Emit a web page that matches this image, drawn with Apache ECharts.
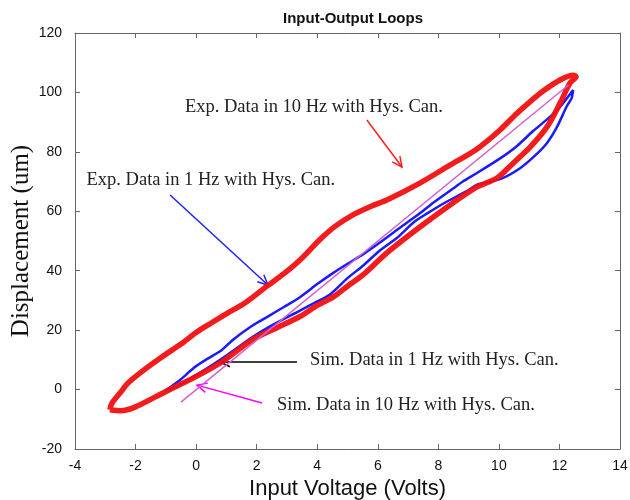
<!DOCTYPE html>
<html>
<head>
<meta charset="utf-8">
<script src="https://cdn.jsdelivr.net/npm/echarts@6/dist/echarts.min.js"></script>
<style>html,body{margin:0;padding:0;background:#fff}#c{width:630px;height:500px}</style>
</head>
<body>
<div id="c"></div>
<script>
// Axis ticks
const xTicks = [-4, -2, 0, 2, 4, 6, 8, 10, 12, 14];
const yTicks = [-20, 0, 20, 40, 60, 80, 100, 120];

// Exp. data 10 Hz (red loop): upper branch (tip -> top), lower branch (top -> tip)
const exp10Upper = [[-2.85,-6.8],[-2.78,-4.6],[-2.5,-1.0],[-2.25,2.2],[-1.7,6.8],[-1.13,11.0],[-0.5,15.3],[0.0,19.2],[0.5,22.4],[1.05,25.8],[1.61,29.1],[2.34,34.8],[2.9,39.0],[3.43,43.6],[4.09,50.5],[4.6,55.0],[5.18,58.8],[5.8,61.8],[6.3,63.8],[7.39,69.5],[8.38,75.5],[9.28,81.0],[10.0,87.0],[10.6,93.0],[11.1,97.5],[11.46,100.5],[12.02,104.2],[12.45,105.8],[12.55,105.4]];
const exp10Lower = [[12.55,105.4],[12.35,103.2],[12.02,96.4],[11.59,88.4],[11.03,81.6],[10.47,76.2],[9.94,71.2],[9.28,68.2],[8.48,62.8],[7.39,54.7],[6.3,46.0],[5.5,38.5],[5.0,34.8],[4.52,31.1],[4.0,28.3],[3.43,24.6],[2.6,20.5],[1.85,16.7],[0.85,9.3],[-0.04,4.2],[-1.03,-0.8],[-2.02,-5.9],[-2.5,-7.1],[-2.85,-6.8]];

// Exp. data 1 Hz (blue loop)
const exp1Upper = [[-1.03,-0.5],[-0.5,3.5],[-0.04,7.6],[0.4,10.5],[0.85,13.3],[1.22,16.8],[1.85,21.5],[2.34,24.4],[2.9,27.8],[3.43,31.1],[4.0,35.5],[4.52,39.2],[5.0,42.3],[5.51,45.5],[6.07,49.5],[6.63,53.7],[7.39,59.3],[7.82,62.8],[8.48,67.6],[8.81,70.0],[9.28,72.9],[10.04,77.8],[10.6,82.0],[11.13,87.0],[11.6,91.0],[12.02,95.1],[12.45,100.8]];
const exp1Lower = [[12.45,100.8],[12.4,98.0],[12.25,95.5],[11.92,88.4],[11.59,83.0],[11.2,78.8],[10.7,74.5],[10.04,70.8],[9.3,69.0],[8.94,66.8],[8.2,62.8],[7.62,59.2],[7.2,56.4],[6.63,51.0],[6.07,46.8],[5.5,41.6],[5.0,37.5],[4.42,32.0],[3.8,28.6],[3.43,26.6],[2.5,21.6],[1.85,17.6],[1.05,11.8],[0.4,7.4],[-0.04,4.6],[-0.6,1.2],[-1.03,-0.5]];

// Simulated data (magenta)
const simData = [[-0.5,-4.2],[12.3,102.5]];

// Annotations
const annText = ["Exp. Data in 10 Hz with Hys. Can.", "Exp. Data in 1 Hz with Hys. Can.", "Sim. Data in 1 Hz with Hys. Can.", "Sim. Data in 10 Hz with Hys. Can."];
const annTextPos = [[-0.37,95.1],[-3.62,70.5],[3.76,9.9],[2.67,-5.2]];
const annArrowFrom = [[5.64,90.7],[-0.86,65.5],[3.33,9.3],[2.18,-4.5]];
const annArrowTo = [[6.8,74.9],[2.37,35.2],[0.79,9.3],[0.03,1.5]];
const annColors = ['#ff2020', '#2020ff', '#000000', '#ff00ff'];

const chart = echarts.init(document.getElementById('c'), null, {renderer: 'canvas'});

const tickFont = "'Liberation Sans Narrow', 'Liberation Sans', Arial, sans-serif";
const axisCommon = {
  axisLine: {show: true, onZero: false, lineStyle: {color: '#666', width: 1}},
  axisTick: {show: true, inside: true, length: 5, lineStyle: {color: '#666'}},
  splitLine: {show: false}
};

chart.setOption({
  animation: false,
  backgroundColor: '#fff',
  title: {
    text: 'Input-Output Loops',
    left: 348, top: 6, textAlign: 'center',
    textStyle: {fontFamily: "'Liberation Sans', Arial", fontWeight: 'bold', fontSize: 15, color: '#111'}
  },
  grid: {left: 75, right: 10, top: 33, bottom: 51, containLabel: false, outerBoundsMode: 'none'},
  xAxis: [
    Object.assign({
      type: 'value', min: xTicks[0], max: xTicks[xTicks.length-1], interval: 2, position: 'bottom',
      name: 'Input Voltage (Volts)', nameLocation: 'middle', nameGap: 29,
      nameTextStyle: {fontFamily: "'Liberation Sans', Arial", fontSize: 22, color: '#111'},
      axisLabel: {fontFamily: tickFont, fontSize: 14, color: '#111', margin: 10}
    }, axisCommon),
    Object.assign({
      type: 'value', min: xTicks[0], max: xTicks[xTicks.length-1], interval: 2, position: 'top',
      axisLabel: {show: false}
    }, axisCommon)
  ],
  yAxis: [
    Object.assign({
      type: 'value', min: yTicks[0], max: yTicks[yTicks.length-1], interval: 20, position: 'left',
      name: 'Displacement (um)', nameLocation: 'middle', nameGap: 41, nameRotate: 90, nameMoveOverlap: false,
      nameTextStyle: {fontFamily: "'Liberation Serif', 'Times New Roman', serif", fontSize: 25, color: '#111'},
      axisLabel: {fontFamily: tickFont, fontSize: 14, color: '#111', margin: 13}
    }, axisCommon),
    Object.assign({
      type: 'value', min: yTicks[0], max: yTicks[yTicks.length-1], interval: 20, position: 'right',
      axisLabel: {show: false}
    }, axisCommon)
  ],
  series: [
    {
      name: 'Exp 1 Hz', type: 'line', data: exp1Upper.concat(exp1Lower.slice(1)),
      showSymbol: false, smooth: 0.25, lineStyle: {color: '#1a1aff', width: 2.5}
    },
    {
      name: 'Exp 10 Hz', type: 'line', data: exp10Upper.concat(exp10Lower.slice(1)),
      showSymbol: false, smooth: 0.3, lineStyle: {color: '#f21010', width: 5.5, opacity: 0.95}
    },
    {
      name: 'Sim', type: 'line', data: simData,
      showSymbol: false, lineStyle: {color: '#d060d0', width: 1.5}
    },
    {
      name: 'Annotations', type: 'custom',
      data: annText.map((t, i) => [annTextPos[i][0], annTextPos[i][1]]),
      clip: false,
      renderItem: function (params, api) {
        const i = params.dataIndex;
        const p0 = api.coord(annArrowFrom[i]);
        const p1 = api.coord(annArrowTo[i]);
        const tp = api.coord(annTextPos[i]);
        const ang = Math.atan2(p1[1] - p0[1], p1[0] - p0[0]);
        const L = 11, a = 0.45;
        const h1 = [p1[0] - L * Math.cos(ang - a), p1[1] - L * Math.sin(ang - a)];
        const h2 = [p1[0] - L * Math.cos(ang + a), p1[1] - L * Math.sin(ang + a)];
        const col = annColors[i];
        return {
          type: 'group',
          children: [
            {type: 'line', shape: {x1: p0[0], y1: p0[1], x2: p1[0], y2: p1[1]}, style: {stroke: col, lineWidth: 1.5}},
            {type: 'polyline', shape: {points: [h1, p1, h2]}, style: {stroke: col, fill: null, lineWidth: 1.5}},
            {type: 'text', x: tp[0], y: tp[1], style: {text: annText[i], fill: '#222', align: 'left', verticalAlign: 'middle', font: "18.5px 'Liberation Serif', 'Times New Roman', serif"}}
          ]
        };
      }
    }
  ]
});
</script>
</body>
</html>
